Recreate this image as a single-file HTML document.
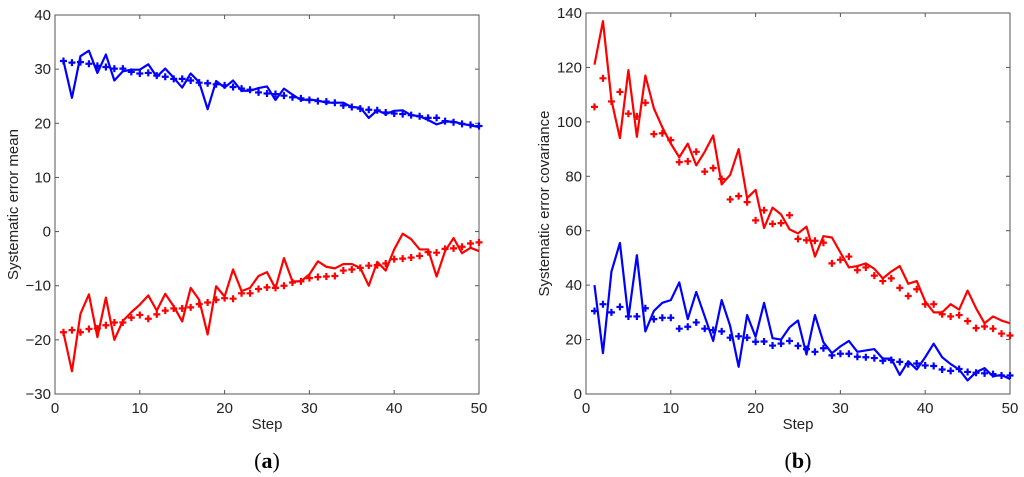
<!DOCTYPE html>
<html><head><meta charset="utf-8"><style>
html,body{margin:0;padding:0;background:#fff;}
svg{display:block;font-family:"Liberation Sans",sans-serif;}
</style></head><body>
<svg id="fig" width="1024" height="477"></svg>
<script>
const steps=[];for(let i=1;i<=50;i++)steps.push(i);
const aBlueLine=[31.5,24.7,32.4,33.4,29.3,32.7,27.9,29.6,29.9,29.9,30.9,28.6,30.1,28.4,26.6,29.2,27.6,22.6,27.8,26.6,27.9,26.0,26.0,26.5,26.8,24.3,26.4,25.3,24.3,24.4,24.2,23.8,23.8,23.8,23.0,22.9,21.0,22.4,21.7,22.3,22.4,21.5,21.3,20.6,19.8,20.3,20.3,19.9,19.6,19.3];
const aBluePlus=[31.5,31.2,31.3,31.0,30.6,30.4,30.1,30.1,29.5,29.2,29.3,28.8,28.6,28.2,28.2,27.9,27.5,27.4,27.2,27.0,26.7,26.4,26.2,25.7,25.5,25.4,25.1,24.8,24.6,24.3,24.1,24.0,23.8,23.3,23.0,22.7,22.5,22.4,22.0,21.8,21.7,21.5,21.3,21.0,21.0,20.4,20.2,19.9,19.7,19.5];
const aRedLine=[-18.7,-25.8,-15.2,-11.6,-19.5,-12.2,-20.0,-16.5,-14.9,-13.5,-11.8,-14.6,-11.5,-13.8,-16.6,-10.4,-12.6,-19.0,-10.1,-12.0,-7.0,-11.0,-10.4,-8.2,-7.5,-10.5,-4.9,-9.2,-9.2,-7.9,-5.5,-6.5,-6.8,-6.0,-6.0,-6.7,-10.0,-5.6,-7.2,-3.3,-0.4,-1.4,-3.3,-3.3,-8.3,-3.6,-1.2,-4.0,-3.0,-3.6];
const aRedPlus=[-18.6,-18.2,-18.6,-18.0,-17.9,-17.3,-16.8,-16.8,-15.9,-15.4,-16.1,-15.3,-14.6,-14.2,-14.2,-14.0,-13.4,-13.1,-12.6,-12.3,-12.4,-11.4,-11.4,-10.6,-10.3,-10.4,-10.0,-9.4,-9.2,-8.6,-8.4,-8.3,-8.2,-7.2,-7.0,-6.7,-6.3,-6.2,-5.9,-5.1,-5.0,-4.8,-4.5,-3.8,-3.9,-3.2,-3.1,-2.8,-2.2,-2.0];
const bRedLine=[121,137,108,94,119,94.5,117,105,98,92,87,92,84,89,95,77,80.5,90,72,75,61,68.5,66,60.5,59,61.5,50.5,58,57.5,52,46.5,47,48,46,42.5,45,47,40.5,41.5,34,30,30,33,31,38,31.5,26,28.5,27,26];
const bRedPlus=[105.5,116,107.5,111,103,102,107,95.5,95.8,93.3,85.2,85.5,89,81.7,83,79,71.5,72.7,70.5,63.8,67.5,62.5,62.8,65.7,57,56.5,56.3,55.6,48,49.3,50.5,45.5,46.5,43.5,41.5,42.5,39,36,38.5,33,33,29.3,28.5,29,26.8,24.2,24.8,24,22.2,21.5];
const bBlueLine=[40,15,45,55.5,28,51,23,30.5,33.5,34.5,41,27.5,37.5,28.5,19.5,34.5,25,10,29,21,33.5,20.5,20,24.5,27,14.5,29,19,15,17.5,19.5,15.5,16,16.5,13,13,7,12,9,13.5,18.5,13.5,11,9,5,8,9.5,6.5,7,5.5];
const bBluePlus=[30.5,33,30,32,28.5,28.5,31.5,27.5,28,28,24,24.7,26.3,24,23.5,23,20.7,21.2,20.7,19.2,19.3,17.8,18.5,19.5,17.7,16.5,15.5,16.8,14.2,14.8,14.8,13.7,13.5,13.2,12.2,12.5,11.8,11,11.2,10.5,10.3,9,8.5,9.2,8.1,7.8,7.6,7.3,6.8,6.8];
const xTicks=[0,10,20,30,40,50];
const aYTicks=[-30,-20,-10,0,10,20,30,40];
const bYTicks=[0,20,40,60,80,100,120,140];

const NS='http://www.w3.org/2000/svg';
const svg=document.getElementById('fig');
function mk(tag,attrs,parent){const e=document.createElementNS(NS,tag);for(const k in attrs)e.setAttribute(k,attrs[k]);(parent||svg).appendChild(e);return e;}

function panel(id,L,R,T,B,ymin,ymax,yTicks,ytitle,label,series){
  const g=mk('g',{});
  
  
  const sx=v=>L+(v-0)/(50-0)*(R-L);
  const sy=v=>B-(v-ymin)/(ymax-ymin)*(B-T);
  const box=mk('rect',{x:L,y:T,width:R-L,height:B-T,fill:'#fff',stroke:'#555','stroke-width':1},g);
  
  
  xTicks.forEach(t=>{
    const x=sx(t);
    mk('line',{x1:x,x2:x,y1:B,y2:B-4,stroke:'#555'},g);
    mk('line',{x1:x,x2:x,y1:T,y2:T+4,stroke:'#555'},g);
    const tx=mk('text',{x:x,y:B+19,'text-anchor':'middle','font-size':15,fill:'#222'},g);
    tx.textContent=t;
    
    
  });
  yTicks.forEach(t=>{
    const y=sy(t);
    mk('line',{x1:L,x2:L+4,y1:y,y2:y,stroke:'#555'},g);
    mk('line',{x1:R,x2:R-4,y1:y,y2:y,stroke:'#555'},g);
    const tx=mk('text',{x:L-4,y:y+5,'text-anchor':'end','font-size':15,fill:'#222'},g);
    tx.textContent=(t<0?'\u2212'+(-t):t);
    
    
  });
  series.forEach(s=>{
    const vals=s.v;
    if(s.type==='line'){
      const p=mk('polyline',{points:vals.map((v,i)=>sx(steps[i])+','+sy(v)).join(' '),fill:'none',stroke:s.c,'stroke-width':2.2,'stroke-linejoin':'round'},g);
      
      
    } else {
      const gg=mk('g',{stroke:s.c,'stroke-width':2.2},g);
      
      
      vals.forEach((v,i)=>{
        const x=sx(steps[i]),y=sy(v);
        mk('path',{d:`M${x-3.5},${y}H${x+3.5}M${x},${y-3.5}V${y+3.5}`},gg);
      });
    }
  });
  const xt=mk('text',{x:(L+R)/2,y:B+35,'text-anchor':'middle','font-size':15,fill:'#222'},g);
  xt.textContent='Step';
  
  
  const cy=(T+B)/2;
  const yt=mk('text',{x:0,y:0,'text-anchor':'middle','font-size':15,fill:'#222',transform:`translate(${L-37},${cy}) rotate(-90)`},g);
  yt.textContent=ytitle;
  
  
  const lb=mk('text',{x:(L+R)/2,y:468,'text-anchor':'middle','font-size':22,'font-family':'Liberation Serif, serif',fill:'#000'},g);
  lb.innerHTML='(<tspan font-weight="bold">'+label+'</tspan>)';
  
  
}
panel('panel-a',55,479,15,394,-30,40,aYTicks,'Systematic error mean','a',[
 {type:'line',v:aBlueLine,c:'#0000ff',n:'blue-line'},
 {type:'plus',v:aBluePlus,c:'#0000ff',n:'blue-plus-markers'},
 {type:'line',v:aRedLine,c:'#ff0000',n:'red-line'},
 {type:'plus',v:aRedPlus,c:'#ff0000',n:'red-plus-markers'}]);
panel('panel-b',586,1010,13,394,0,140,bYTicks,'Systematic error covariance','b',[
 {type:'line',v:bRedLine,c:'#ff0000',n:'red-line'},
 {type:'plus',v:bRedPlus,c:'#ff0000',n:'red-plus-markers'},
 {type:'line',v:bBlueLine,c:'#0000ff',n:'blue-line'},
 {type:'plus',v:bBluePlus,c:'#0000ff',n:'blue-plus-markers'}]);
</script>
</body></html>
